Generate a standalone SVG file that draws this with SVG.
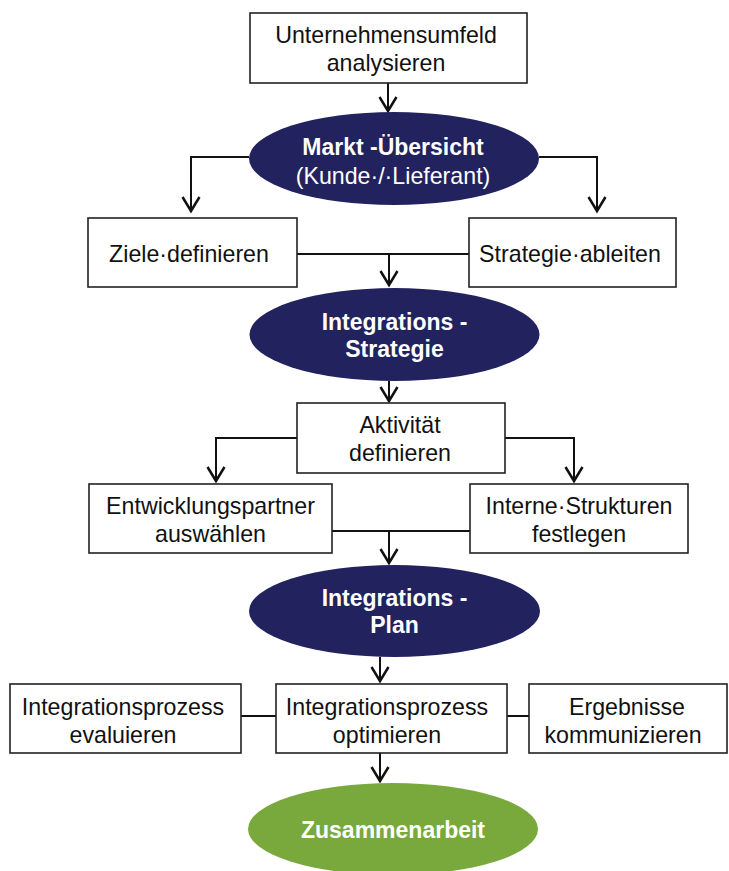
<svg xmlns="http://www.w3.org/2000/svg" width="729" height="871" viewBox="0 0 729 871">
  <style>
    .box { fill: #ffffff; stroke: #222222; stroke-width: 1.6; }
    .navy { fill: #22225e; }
    .green { fill: #79a93d; }
    .t { font-family: "Liberation Sans", Arial, sans-serif; font-size: 23.2px; fill: #111111; text-anchor: middle; }
    .w { fill: #ffffff; }
    .b { font-weight: bold; font-size: 23px; }
    .con { fill: none; stroke: #111111; stroke-width: 2; }
    .arr { marker-end: url(#head); }
  </style>
  <defs>
    <marker id="head" markerUnits="userSpaceOnUse" viewBox="-16 -10 18 20" markerWidth="18" markerHeight="20" refX="0" refY="0" orient="auto" overflow="visible">
      <path d="M-14,-8.5 L0,0 L-14,8.5" fill="none" stroke="#111111" stroke-width="2.5" stroke-linejoin="miter"/>
    </marker>
  </defs>

  <!-- connectors -->
  <g id="connectors">
    <path class="con arr" d="M388,83 V111"/>
    <path class="con arr" d="M249,157 H191 V211"/>
    <path class="con arr" d="M539,157 H597 V211"/>
    <path class="con" d="M297,254 H469"/>
    <path class="con arr" d="M389,254 V285"/>
    <path class="con arr" d="M389,381 V401"/>
    <path class="con arr" d="M297,438 H216 V481"/>
    <path class="con arr" d="M505,438 H574 V481"/>
    <path class="con" d="M332,531 H470"/>
    <path class="con arr" d="M389,531 V563"/>
    <path class="con arr" d="M380,657 V681"/>
    <path class="con" d="M241,716 H276"/>
    <path class="con" d="M507,716 H529"/>
    <path class="con arr" d="M380,753 V781"/>
  </g>

  <g id="umfeld">
    <rect class="box" x="250" y="13" width="277" height="70"/>
    <text class="t" x="386" y="43">Unternehmensumfeld</text>
    <text class="t" x="386" y="71">analysieren</text>
  </g>

  <g id="markt">
    <ellipse class="navy" cx="394" cy="158.5" rx="145" ry="46.5"/>
    <text class="t w b" x="393" y="155">Markt -Übersicht</text>
    <text class="t w" x="393" y="184">(Kunde·/·Lieferant)</text>
  </g>

  <g id="ziele">
    <rect class="box" x="88" y="218" width="209" height="69"/>
    <text class="t" x="189" y="262">Ziele·definieren</text>
  </g>

  <g id="strategie">
    <rect class="box" x="469" y="218" width="207" height="69"/>
    <text class="t" x="570" y="262">Strategie·ableiten</text>
  </g>

  <g id="int-strategie">
    <ellipse class="navy" cx="394.5" cy="334.5" rx="145" ry="46.5"/>
    <text class="t w b" x="394.5" y="330">Integrations -</text>
    <text class="t w b" x="394.5" y="357">Strategie</text>
  </g>

  <g id="aktivitaet">
    <rect class="box" x="297" y="403" width="208" height="70"/>
    <text class="t" x="400" y="433">Aktivität</text>
    <text class="t" x="400" y="461">definieren</text>
  </g>

  <g id="partner">
    <rect class="box" x="89" y="484" width="243" height="69"/>
    <text class="t" x="210.5" y="514">Entwicklungspartner</text>
    <text class="t" x="210.5" y="542">auswählen</text>
  </g>

  <g id="strukturen">
    <rect class="box" x="470" y="484" width="218" height="69"/>
    <text class="t" x="579" y="514">Interne·Strukturen</text>
    <text class="t" x="579" y="542">festlegen</text>
  </g>

  <g id="int-plan">
    <ellipse class="navy" cx="394.5" cy="611" rx="145.5" ry="46"/>
    <text class="t w b" x="394.5" y="606">Integrations -</text>
    <text class="t w b" x="394.5" y="633">Plan</text>
  </g>

  <g id="evaluieren">
    <rect class="box" x="10" y="684" width="231" height="69"/>
    <text class="t" x="123" y="715">Integrationsprozess</text>
    <text class="t" x="123" y="743">evaluieren</text>
  </g>

  <g id="optimieren">
    <rect class="box" x="276" y="684" width="231" height="69"/>
    <text class="t" x="387" y="715">Integrationsprozess</text>
    <text class="t" x="387" y="743">optimieren</text>
  </g>

  <g id="ergebnisse">
    <rect class="box" x="529" y="684" width="198" height="69"/>
    <text class="t" x="627" y="715">Ergebnisse</text>
    <text class="t" x="623" y="743">kommunizieren</text>
  </g>

  <g id="zusammenarbeit">
    <ellipse class="green" cx="393" cy="829" rx="145" ry="46"/>
    <text class="t w b" x="393" y="838">Zusammenarbeit</text>
  </g>
</svg>
